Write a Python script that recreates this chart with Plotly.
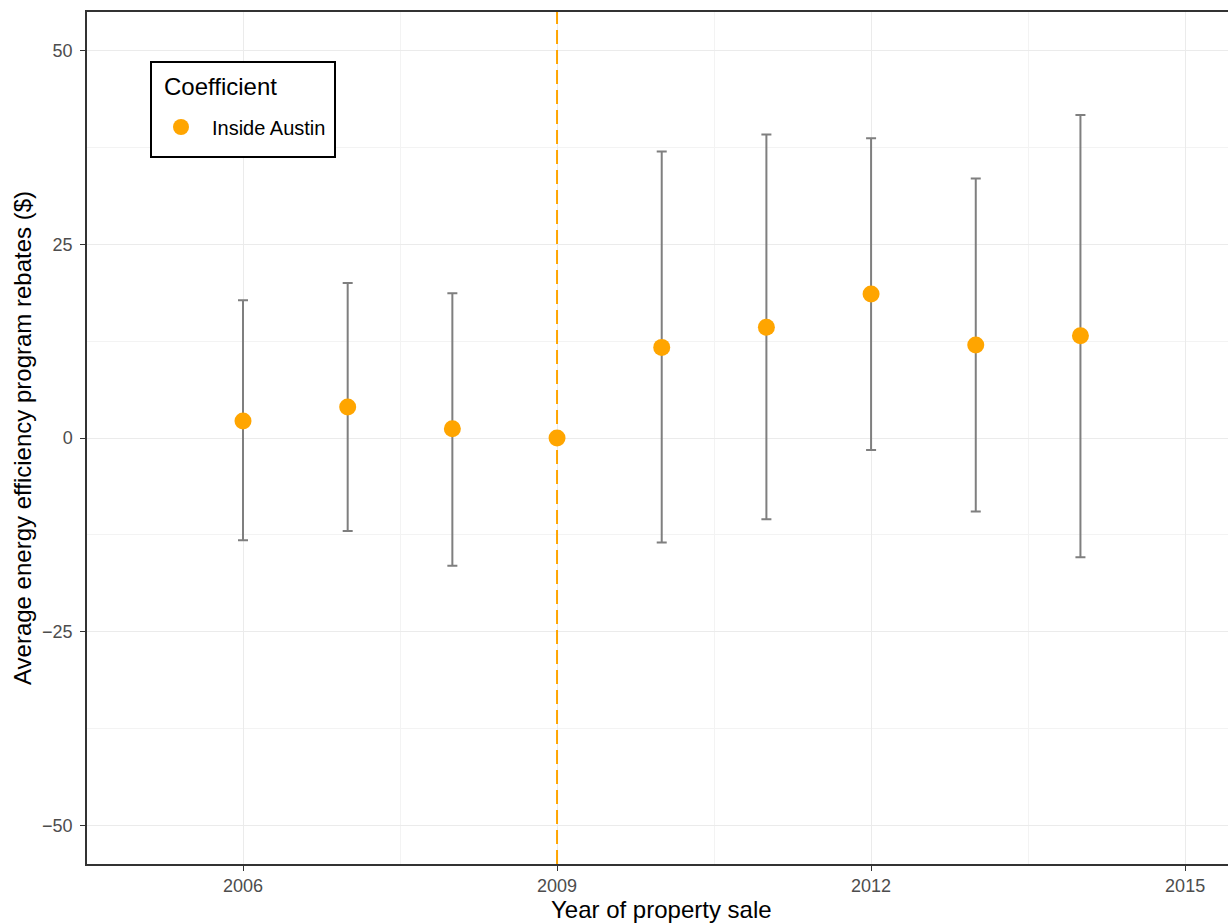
import plotly.graph_objects as go

years = [2006, 2007, 2008, 2009, 2010, 2011, 2012, 2013, 2014]
coef = [2.2, 4.0, 1.2, 0.0, 11.7, 14.3, 18.6, 12.0, 13.2]
upper = [17.8, 20.0, 18.7, 0.0, 37.0, 39.2, 38.7, 33.5, 41.7]
lower = [-13.2, -12.0, -16.5, 0.0, -13.5, -10.5, -1.55, -9.5, -15.4]
x_ticks = [2006, 2009, 2012, 2015]
y_ticks = [-50, -25, 0, 25, 50]
event_year = 2009
series_name = "Inside Austin"
legend_title = "Coefficient"

err_plus = [u - c for u, c in zip(upper, coef)]
err_minus = [c - l for c, l in zip(coef, lower)]

W, H = 1228, 923
L, R, T, B = 87, 0, 12, 59
PW, PH = W - L - R, H - T - B
PX_PER_YEAR = 104.68
X0 = 2006 - (243 - L) / PX_PER_YEAR
X1 = X0 + PW / PX_PER_YEAR


def px_x(page_x):
    return (page_x - L) / PW


def px_y(page_y):
    return (T + PH - page_y) / PH


fig = go.Figure()
fig.add_trace(go.Scatter(
    x=years, y=coef, mode="markers",
    marker=dict(size=1, color="rgba(0,0,0,0)"),
    error_y=dict(type="data", symmetric=False, array=err_plus, arrayminus=err_minus,
                 color="#7F7F7F", thickness=2, width=5),
    showlegend=False, hoverinfo="skip",
))
fig.add_trace(go.Scatter(
    x=years, y=coef, mode="markers", name=series_name,
    marker=dict(size=17, color="#FFA500"),
))

fig.add_shape(type="line", x0=event_year, x1=event_year, y0=0, y1=1, yref="paper",
              line=dict(color="#FFA500", width=2, dash="14px,6px"), layer="above")

# legend box
fig.add_shape(type="rect", xref="paper", yref="paper",
              x0=px_x(151), x1=px_x(335), y0=px_y(157), y1=px_y(62),
              line=dict(color="black", width=2), fillcolor="white", layer="above")

fig.update_layout(
    width=W, height=H,
    margin=dict(l=L, r=R, t=T, b=B),
    plot_bgcolor="white", paper_bgcolor="white",
    font=dict(family="Liberation Sans, Arial, sans-serif", color="black"),
    showlegend=True,
    legend=dict(
        x=px_x(150), y=px_y(127), xanchor="left", yanchor="middle",
        bgcolor="rgba(0,0,0,0)", borderwidth=0,
        font=dict(size=20, color="black"),
        itemsizing="trace", itemwidth=52,
    ),
    xaxis=dict(
        range=[X0, X1], tickvals=x_ticks, ticktext=[str(v) for v in x_ticks],
        showgrid=True, gridcolor="#EBEBEB", gridwidth=1.2,
        minor=dict(tickvals=[2004.5, 2007.5, 2010.5, 2013.5], showgrid=True,
                   gridcolor="#F3F3F3", gridwidth=0.8, ticks=""),
        zeroline=False,
        showline=True, linecolor="#333333", linewidth=1.5, mirror=True,
        ticks="outside", ticklen=5, tickcolor="#333333", tickwidth=1,
        ticklabelstandoff=0,
        tickfont=dict(size=18, color="#4D4D4D"),
    ),
    yaxis=dict(
        range=[-55, 55], tickvals=y_ticks,
        ticktext=["\u221250", "\u221225", "0", "25", "50"],
        showgrid=True, gridcolor="#EBEBEB", gridwidth=1.2,
        minor=dict(tickvals=[-37.5, -12.5, 12.5, 37.5], showgrid=True,
                   gridcolor="#F3F3F3", gridwidth=0.8, ticks=""),
        zeroline=False,
        showline=True, linecolor="#333333", linewidth=1.5,
        ticks="outside", ticklen=5, tickcolor="#333333", tickwidth=1,
        ticklabelstandoff=4,
        tickfont=dict(size=18, color="#4D4D4D"),
    ),
    annotations=[
        dict(text="Year of property sale", x=2010.0, xref="x", y=0, yref="paper",
             yshift=-45, yanchor="middle", showarrow=False,
             font=dict(size=24, color="black")),
        dict(text="Average energy efficiency program rebates ($)", x=0, xref="paper",
             xshift=-65, y=0.5, yref="paper", textangle=-90, xanchor="center",
             yanchor="middle", showarrow=False, font=dict(size=24, color="black")),
        dict(text=legend_title, x=px_x(162), xref="paper", xanchor="left",
             y=px_y(86), yref="paper", yanchor="middle", showarrow=False,
             font=dict(size=24, color="black")),
    ],
)

fig.write_html(
    "out.html",
    config={"displayModeBar": False},
    post_script="document.body.style.margin='0';document.body.style.overflow='hidden';",
)
